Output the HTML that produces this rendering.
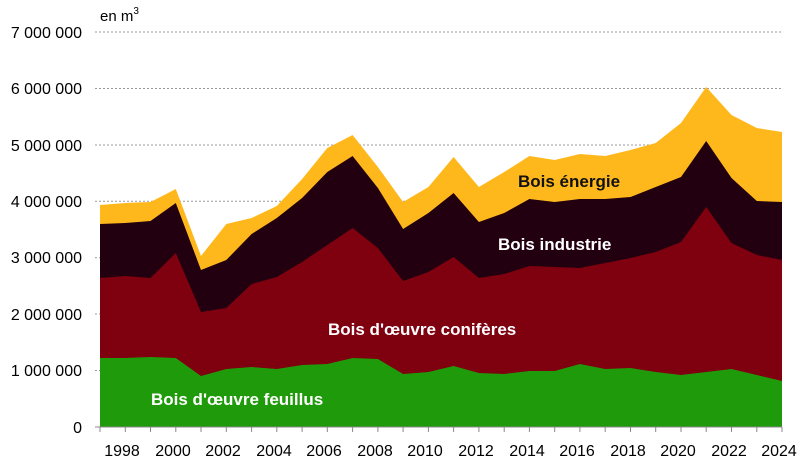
<!DOCTYPE html>
<html><head><meta charset="utf-8"><style>
body{margin:0;background:#fff;}
svg{display:block;font-family:"Liberation Sans",sans-serif;}
</style></head><body>
<svg width="800" height="465" viewBox="0 0 800 465">
<g stroke="#999" stroke-dasharray="2,2" stroke-width="1">
<line x1="95" y1="32" x2="782" y2="32"/><line x1="95" y1="88.5" x2="782" y2="88.5"/>
<line x1="95" y1="145" x2="782" y2="145"/><line x1="95" y1="201.3" x2="782" y2="201.3"/>
<line x1="95" y1="257.7" x2="782" y2="257.7"/><line x1="95" y1="314" x2="782" y2="314"/>
<line x1="95" y1="370.5" x2="782" y2="370.5"/>
</g>
<polygon fill="#FFB81C" points="100,205 125.3,203 150.5,202 175.8,189 201,256 226.3,224 251.6,218 276.8,206 302.1,179 327.3,148 352.6,135 377.9,167 403.1,202 428.4,187 453.6,157 478.9,187 504.2,172 529.4,156 554.7,160 579.9,154 605.2,156 630.5,150 655.7,143 681,123 706.2,87 731.5,115 756.8,128 782,132 782,427 100,427"/>
<polygon fill="#22000F" points="100,224 125.3,223 150.5,221 175.8,203 201,270 226.3,260 251.6,234 276.8,218 302.1,198 327.3,172 352.6,156 377.9,188 403.1,229 428.4,213 453.6,193 478.9,222 504.2,213 529.4,199 554.7,202 579.9,199 605.2,199 630.5,197 655.7,187 681,177 706.2,141 731.5,178 756.8,201 782,202 782,427 100,427"/>
<polygon fill="#7F000F" points="100,278 125.3,276 150.5,278 175.8,253 201,312 226.3,308 251.6,284 276.8,277 302.1,262 327.3,245 352.6,228 377.9,248 403.1,281 428.4,272 453.6,257 478.9,278 504.2,274 529.4,266 554.7,267 579.9,268 605.2,263 630.5,258 655.7,252 681,242 706.2,207 731.5,243 756.8,255 782,260 782,427 100,427"/>
<polygon fill="#1F9A0A" points="100,358 125.3,358 150.5,357 175.8,358 201,376 226.3,369 251.6,367 276.8,369 302.1,365 327.3,364 352.6,358 377.9,359 403.1,374 428.4,372 453.6,366 478.9,373 504.2,374 529.4,371 554.7,371 579.9,364 605.2,369 630.5,368 655.7,372 681,375 706.2,372 731.5,369 756.8,375 782,381 782,427 100,427"/>
<line x1="95" y1="427" x2="782" y2="427" stroke="#888" stroke-width="1"/>
<g stroke="#888" stroke-width="1">
<line x1="100" y1="427" x2="100" y2="432"/><line x1="125.3" y1="427" x2="125.3" y2="432"/><line x1="150.5" y1="427" x2="150.5" y2="432"/><line x1="175.8" y1="427" x2="175.8" y2="432"/><line x1="201" y1="427" x2="201" y2="432"/><line x1="226.3" y1="427" x2="226.3" y2="432"/><line x1="251.6" y1="427" x2="251.6" y2="432"/><line x1="276.8" y1="427" x2="276.8" y2="432"/><line x1="302.1" y1="427" x2="302.1" y2="432"/><line x1="327.3" y1="427" x2="327.3" y2="432"/><line x1="352.6" y1="427" x2="352.6" y2="432"/><line x1="377.9" y1="427" x2="377.9" y2="432"/><line x1="403.1" y1="427" x2="403.1" y2="432"/><line x1="428.4" y1="427" x2="428.4" y2="432"/><line x1="453.6" y1="427" x2="453.6" y2="432"/><line x1="478.9" y1="427" x2="478.9" y2="432"/><line x1="504.2" y1="427" x2="504.2" y2="432"/><line x1="529.4" y1="427" x2="529.4" y2="432"/><line x1="554.7" y1="427" x2="554.7" y2="432"/><line x1="579.9" y1="427" x2="579.9" y2="432"/><line x1="605.2" y1="427" x2="605.2" y2="432"/><line x1="630.5" y1="427" x2="630.5" y2="432"/><line x1="655.7" y1="427" x2="655.7" y2="432"/><line x1="681" y1="427" x2="681" y2="432"/><line x1="706.2" y1="427" x2="706.2" y2="432"/><line x1="731.5" y1="427" x2="731.5" y2="432"/><line x1="756.8" y1="427" x2="756.8" y2="432"/><line x1="782" y1="427" x2="782" y2="432"/>
</g>
<g font-size="16" fill="#000" text-anchor="end">
<text x="82" y="38">7 000 000</text><text x="82" y="94">6 000 000</text><text x="82" y="151">5 000 000</text><text x="82" y="207">4 000 000</text><text x="82" y="263">3 000 000</text><text x="82" y="320">2 000 000</text><text x="82" y="376">1 000 000</text><text x="82" y="433">0</text>
</g>
<text x="100" y="21" font-size="15">en m<tspan font-size="10" dy="-7">3</tspan></text>
<g font-size="16" fill="#000" text-anchor="middle">
<text x="122" y="456">1998</text><text x="173" y="456">2000</text><text x="223" y="456">2002</text><text x="274" y="456">2004</text><text x="324" y="456">2006</text><text x="375" y="456">2008</text><text x="425" y="456">2010</text><text x="476" y="456">2012</text><text x="527" y="456">2014</text><text x="577" y="456">2016</text><text x="628" y="456">2018</text><text x="678" y="456">2020</text><text x="729" y="456">2022</text><text x="779" y="456">2024</text>
</g>
<g font-size="17" font-weight="bold">
<text x="518" y="187" fill="#111">Bois énergie</text>
<text x="498" y="250" fill="#fff">Bois industrie</text>
<text x="328" y="335" fill="#fff">Bois d'œuvre conifères</text>
<text x="151" y="405" fill="#fff">Bois d'œuvre feuillus</text>
</g>
</svg>
</body></html>
